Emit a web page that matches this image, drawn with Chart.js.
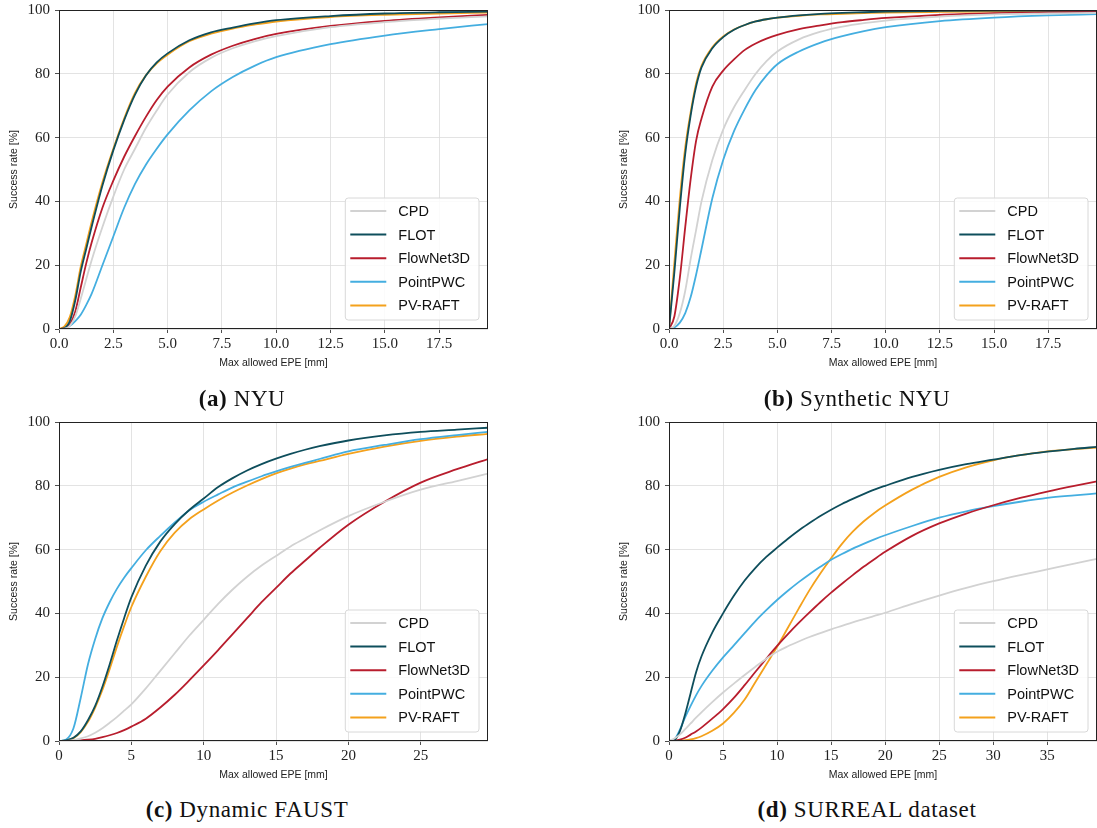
<!DOCTYPE html>
<html>
<head>
<meta charset="utf-8">
<script src="https://cdn.jsdelivr.net/npm/chart.js@4/dist/chart.umd.min.js"></script>
<style>
  html, body { margin: 0; padding: 0; background: #fff; }
  body { width: 1097px; height: 828px; position: relative; overflow: hidden; }
  .panel { position: absolute; }
  .caption {
    position: absolute; font-family: "Liberation Serif", serif; font-size: 23px;
    color: #111; white-space: nowrap; transform: translate(-50%, -50%); letter-spacing: 0.6px;
  }
  .caption b { font-weight: bold; }
</style>
</head>
<body>
<div class="panel" style="left:0;top:-4px;width:492px;height:379px"><canvas id="nyu"></canvas></div>
<div class="panel" style="left:610px;top:-4px;width:487px;height:379px"><canvas id="syn"></canvas></div>
<div class="panel" style="left:0;top:408px;width:492px;height:379px"><canvas id="faust"></canvas></div>
<div class="panel" style="left:610px;top:408px;width:487px;height:379px"><canvas id="surreal"></canvas></div>

<div class="caption" style="left:242px;top:399px"><b>(a)</b> NYU</div>
<div class="caption" style="left:857px;top:399px"><b>(b)</b> Synthetic NYU</div>
<div class="caption" style="left:247px;top:810px"><b>(c)</b> Dynamic FAUST</div>
<div class="caption" style="left:867px;top:810px"><b>(d)</b> SURREAL dataset</div>

<script>
const methods = ['CPD', 'FLOT', 'FlowNet3D', 'PointPWC', 'PV-RAFT']
const colors = ['#d2d2d2', '#0e4e5c', '#b81d2d', '#44aee0', '#f4a11c']

// (a) NYU
const nyuX       = [0, 0.25, 0.5, 0.75, 1, 1.25, 1.5, 2, 2.5, 3, 3.5, 4, 4.5, 5, 6, 7, 8, 9, 10, 12.5, 15, 17.5, 19.75]
const nyuCPD     = [0, 0.1, 1, 4, 9.5, 15.5, 21.5, 32, 41.5, 50, 56.5, 63, 68.5, 73.5, 80.5, 85, 88, 90.2, 91.8, 94.6, 96.2, 97.3, 98]
const nyuFLOT    = [0, 0.3, 2.5, 9, 18, 25, 32, 45, 56, 65.5, 73.5, 79.5, 83.6, 86.4, 90.5, 93, 94.5, 95.8, 96.8, 98.1, 98.9, 99.3, 99.5]
const nyuFlowNet = [0, 0.2, 1.5, 5.5, 13, 20.5, 27, 38, 46.5, 54, 60.5, 66.5, 71.8, 76, 82, 86, 88.8, 90.9, 92.5, 95, 96.6, 97.7, 98.5]
const nyuPWC     = [0, 0.1, 1, 2.5, 4.5, 7.5, 11, 20, 29, 38, 45.5, 51.5, 56.5, 61, 68.5, 74.5, 79, 82.5, 85.2, 89.3, 92, 94, 95.6]
const nyuPV      = [0, 0.8, 3.8, 10.5, 19.5, 26.5, 33.5, 46, 56.5, 66, 74, 79.5, 83.3, 86, 90.2, 92.6, 94.2, 95.4, 96.4, 97.8, 98.5, 98.9, 99.2]

// (b) Synthetic NYU
const synX       = [0, 0.25, 0.5, 0.75, 1, 1.25, 1.5, 2, 2.5, 3, 3.5, 4, 4.5, 5, 6, 7, 8, 9, 10, 12.5, 15, 17.5, 19.75]
const synCPD     = [0, 1, 5, 12, 22, 31, 40, 53, 62.5, 69.5, 75, 80, 84, 87, 90.8, 93.2, 94.8, 95.9, 96.7, 97.9, 98.6, 98.9, 99.1]
const synFLOT    = [0, 18, 38, 55, 67, 76, 82, 88, 91.5, 93.8, 95.3, 96.4, 97.1, 97.6, 98.3, 98.8, 99.1, 99.3, 99.5, 99.7, 99.8, 99.85, 99.9]
const synFlowNet = [0, 4, 16, 32, 47, 59, 66, 76, 81, 84.5, 87.5, 89.5, 91, 92.2, 94, 95.2, 96.2, 96.9, 97.5, 98.5, 99, 99.3, 99.5]
const synPWC     = [0, 0.5, 2, 5, 10, 17, 25, 41, 53, 62, 69, 75, 79.5, 83, 87, 89.8, 91.8, 93.4, 94.6, 96.5, 97.6, 98.3, 98.7]
const synPV      = [0, 21, 41, 57, 68, 77, 82.5, 88.3, 91.7, 93.9, 95.3, 96.4, 97.1, 97.6, 98.2, 98.6, 98.8, 99, 99.2, 99.4, 99.5, 99.55, 99.6]

// (c) Dynamic FAUST
const faustX       = [0, 0.5, 1, 1.5, 2, 2.5, 3, 3.5, 4, 4.5, 5, 6, 7, 8, 9, 10, 11, 12, 13, 14, 15, 16, 17, 18, 20, 22.5, 25, 27.5, 29.65]
const faustCPD     = [0, 0.05, 0.3, 0.8, 1.5, 2.6, 4, 5.7, 7.5, 9.5, 11.5, 16.5, 22, 27.5, 33, 38, 43, 47.5, 51.5, 55, 58, 61, 63.5, 66, 70.5, 75, 78.8, 81.5, 83.8]
const faustFLOT    = [0, 0.2, 1, 3, 6.5, 11, 17, 24, 31.5, 38.5, 45, 55, 62.5, 68, 72.4, 76, 79.6, 82.4, 84.8, 86.8, 88.5, 90, 91.3, 92.4, 94.2, 95.8, 96.9, 97.6, 98.2]
const faustFlowNet = [0, 0.02, 0.1, 0.2, 0.4, 0.7, 1.2, 1.8, 2.5, 3.4, 4.5, 7, 10.5, 14.5, 19, 23.7, 28.5, 33.5, 38.5, 43.5, 48, 52.5, 56.5, 60.5, 67.8, 75, 81, 85.2, 88.4]
const faustPWC     = [0, 0.5, 4, 13.5, 24, 32, 38.5, 43.5, 47.7, 51.2, 54.2, 59.8, 64.3, 68.5, 72.3, 75, 77.3, 79.5, 81.3, 83, 84.5, 85.9, 87.2, 88.4, 90.8, 92.8, 94.6, 95.9, 96.9]
const faustPV      = [0, 0.2, 0.9, 2.8, 6, 10.5, 16, 22.5, 29.5, 36, 42, 51.5, 59.5, 65.3, 69.5, 72.6, 75.4, 77.9, 80.1, 82.1, 83.9, 85.4, 86.7, 87.8, 90, 92.3, 94.1, 95.4, 96.3]

// (d) SURREAL dataset
const surrealX       = [0, 0.5, 1, 1.5, 2, 2.5, 3, 4, 5, 6, 7, 8, 9, 10, 11, 12, 13, 14, 15, 16, 17, 18, 19, 20, 22.5, 25, 27.5, 30, 32.5, 35, 37.5, 39.6]
const surrealCPD     = [0, 0.8, 2, 3.7, 5.5, 7.3, 9, 12.2, 15.2, 18, 20.7, 23.3, 25.8, 28, 29.7, 31.2, 32.6, 33.8, 35, 36.1, 37.2, 38.2, 39.2, 40.2, 43, 45.6, 48, 50.1, 52, 53.8, 55.6, 57.1]
const surrealFLOT    = [0, 0.3, 3, 8.5, 15, 21.5, 26.5, 34, 40, 45.5, 50.3, 54.3, 57.7, 60.6, 63.4, 66, 68.3, 70.5, 72.5, 74.3, 75.9, 77.4, 78.8, 80, 82.8, 85, 86.8, 88.2, 89.6, 90.7, 91.6, 92.2]
const surrealFlowNet = [0, 0.1, 0.4, 1, 2, 3, 4.2, 7, 10, 13.5, 17.5, 21.7, 25.8, 29.8, 33.5, 37, 40.3, 43.5, 46.5, 49.3, 52, 54.6, 57, 59.3, 64.3, 68.2, 71.3, 73.9, 76.2, 78.2, 80, 81.4]
const surrealPWC     = [0, 0.5, 3.5, 7.5, 11, 14.3, 17.2, 22, 26.2, 30, 33.8, 37.6, 41, 44.2, 47.1, 49.8, 52.3, 54.6, 56.8, 58.6, 60.3, 61.8, 63.2, 64.5, 67.4, 70, 72, 73.6, 75, 76.2, 77, 77.6]
const surrealPV      = [0, 0, 0.1, 0.25, 0.5, 0.9, 1.5, 3.2, 5.5, 8.8, 13, 18.5, 24, 29.5, 35.5, 41.5, 47.3, 52.5, 57.3, 61.8, 65.6, 68.8, 71.5, 73.8, 78.8, 82.8, 85.8, 88, 89.6, 90.8, 91.5, 92]

const yTicks = [0, 20, 40, 60, 80, 100]

const serif = "'Liberation Serif', serif"
const sans = "'Liberation Sans', 'DejaVu Sans', sans-serif"

// frame + in-axes legend, matplotlib style
const boxAndLegend = {
  id: 'boxAndLegend',
  afterDatasetsDraw(chart) {
    const {ctx, chartArea: a} = chart
    ctx.save()
    ctx.strokeStyle = '#222'
    ctx.lineWidth = 1
    ctx.strokeRect(a.left + 0.5, a.top + 0.5, a.right - a.left - 1, a.bottom - a.top - 1)

    ctx.font = '14.5px ' + sans
    const sets = chart.data.datasets
    let tw = 0
    sets.forEach(d => { tw = Math.max(tw, ctx.measureText(d.label).width) })
    const w = 53 + tw + 9, h = 122
    const x0 = a.right - 9 - w, y0 = a.bottom - 9 - h
    ctx.beginPath()
    ctx.roundRect(x0, y0, w, h, 3)
    ctx.fillStyle = 'rgba(255,255,255,0.85)'
    ctx.fill()
    ctx.strokeStyle = '#d8d8d8'
    ctx.stroke()
    ctx.textBaseline = 'middle'
    sets.forEach((d, i) => {
      const y = y0 + 13 + i * 23.6
      ctx.strokeStyle = d.borderColor
      ctx.lineWidth = 2
      ctx.beginPath()
      ctx.moveTo(x0 + 5, y)
      ctx.lineTo(x0 + 41, y)
      ctx.stroke()
      ctx.fillStyle = '#111'
      ctx.fillText(d.label, x0 + 53, y + 1)
    })
    ctx.restore()
  }
}

function makeChart(id, xs, series, xmax, step, decimals, padRight) {
  const datasets = series.map((ys, i) => ({
    label: methods[i],
    data: xs.map((x, j) => ({x: x, y: ys[j]})),
    borderColor: colors[i],
    borderWidth: 1.8,
    pointRadius: 0,
    cubicInterpolationMode: 'monotone',
    fill: false
  }))

  return new Chart(document.getElementById(id), {
    type: 'line',
    data: {datasets: datasets},
    options: {
      responsive: true,
      maintainAspectRatio: false,
      animation: false,
      layout: {padding: {left: 0, right: padRight, top: 6, bottom: 0}},
      plugins: {legend: {display: false}, tooltip: {enabled: false}},
      scales: {
        x: {
          type: 'linear',
          min: 0,
          max: xmax,
          afterFit: s => { s.height = 46 },
          border: {display: false},
          grid: {color: '#dcdcdc', lineWidth: 0.8, borderDash: [2, 2], tickLength: 4, tickColor: '#222', tickBorderDash: []},
          ticks: {
            stepSize: step, includeBounds: false, maxRotation: 0, padding: 2,
            color: '#222', font: {family: serif, size: 15},
            callback: v => v.toFixed(decimals)
          },
          title: {display: true, text: 'Max allowed EPE [mm]', color: '#222', font: {family: sans, size: 10.5}, padding: {top: 0, bottom: 6}}
        },
        y: {
          type: 'linear',
          min: 0,
          max: 100,
          afterFit: s => { s.width = 59 },
          afterBuildTicks: s => { s.ticks = yTicks.map(v => ({value: v})) },
          border: {display: false},
          grid: {color: '#dcdcdc', lineWidth: 0.8, borderDash: [2, 2], tickLength: 4, tickColor: '#222', tickBorderDash: []},
          ticks: {padding: 5, color: '#222', font: {family: serif, size: 15}},
          title: {display: true, text: 'Success rate [%]', color: '#222', font: {family: sans, size: 10.5}, padding: {top: 8, bottom: 0}}
        }
      }
    },
    plugins: [boxAndLegend]
  })
}

makeChart('nyu', nyuX, [nyuCPD, nyuFLOT, nyuFlowNet, nyuPWC, nyuPV], 19.75, 2.5, 1, 4)
makeChart('syn', synX, [synCPD, synFLOT, synFlowNet, synPWC, synPV], 19.75, 2.5, 1, 0)
makeChart('faust', faustX, [faustCPD, faustFLOT, faustFlowNet, faustPWC, faustPV], 29.65, 5, 0, 4)
makeChart('surreal', surrealX, [surrealCPD, surrealFLOT, surrealFlowNet, surrealPWC, surrealPV], 39.6, 5, 0, 0)
</script>
</body>
</html>
